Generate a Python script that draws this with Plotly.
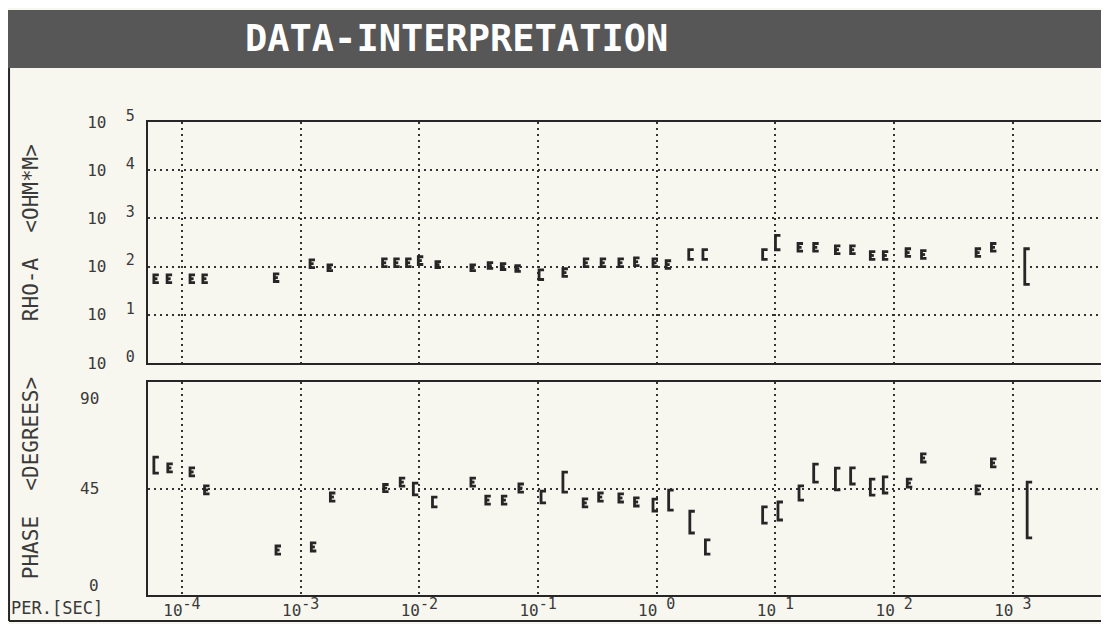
import plotly.graph_objects as go

# ---------------- data ----------------
title_text = "DATA-INTERPRETATION"

rho_period = [5.8e-5, 7.5e-5, 1.17e-4, 1.5e-4, 6.0e-4, 1.2e-3, 1.7e-3, 4.9e-3, 6.2e-3, 7.8e-3,
              9.8e-3, 0.0138, 0.0272, 0.038, 0.049, 0.065, 0.102, 0.162, 0.245, 0.34,
              0.48, 0.65, 0.93, 1.2, 1.86, 2.45, 7.8, 10.0, 15.5, 21.0,
              32.0, 43.0, 63.0, 81.0, 126.0, 170.0, 490.0, 660.0, 1260.0]
rho_a = [56, 56, 56, 56, 59, 115, 95, 120, 120, 120,
         133, 110, 95, 105, 100, 91, 68, 75, 120, 120,
         120, 126, 120, 110, 178, 178, 178, 316, 251, 251,
         224, 224, 170, 170, 195, 178, 195, 251, 100]
rho_err_dec = [0.08, 0.08, 0.08, 0.08, 0.08, 0.08, 0.06, 0.08, 0.08, 0.08,
               0.08, 0.06, 0.06, 0.06, 0.06, 0.06, 0.10, 0.08, 0.08, 0.08,
               0.08, 0.08, 0.08, 0.08, 0.10, 0.10, 0.10, 0.15, 0.08, 0.08,
               0.08, 0.08, 0.08, 0.08, 0.08, 0.08, 0.08, 0.08, 0.37]

phase_period = [5.8e-5, 7.6e-5, 1.17e-4, 1.55e-4, 6.2e-4, 1.23e-3, 1.78e-3, 5.0e-3, 6.9e-3, 8.9e-3,
                0.0129, 0.0272, 0.0363, 0.050, 0.069, 0.106, 0.162, 0.24, 0.324, 0.48,
                0.65, 0.93, 1.26, 1.9, 2.57, 7.8, 10.5, 15.8, 21.0, 32.0,
                43.0, 63.0, 81.0, 129.0, 170.0, 490.0, 660.0, 1320.0]
phase_deg = [54.9, 53.7, 52.0, 44.4, 19.0, 20.3, 41.4, 45.2, 47.7, 44.8,
             39.3, 47.7, 40.1, 40.1, 45.2, 41.4, 47.7, 38.9, 41.4, 41.0,
             39.3, 38.0, 40.1, 30.8, 20.3, 33.8, 35.5, 43.1, 51.5, 49.0,
             50.3, 45.6, 46.5, 47.3, 57.9, 44.4, 55.8, 35.9]
phase_err = [3.4, 1.7, 1.7, 1.7, 1.7, 1.7, 1.7, 1.5, 1.7, 2.5,
             2.1, 1.7, 1.7, 1.7, 1.7, 2.5, 4.2, 1.7, 1.7, 1.7,
             1.7, 2.5, 4.2, 4.6, 3.0, 3.4, 3.8, 3.0, 3.8, 4.6,
             3.4, 3.4, 3.4, 1.7, 1.7, 1.7, 1.7, 11.8]

x_tickvals = [1e-4, 1e-3, 1e-2, 1e-1, 1e0, 1e1, 1e2, 1e3]
x_exps = ["-4", "-3", "-2", "-1", " 0", " 1", " 2", " 3"]
rho_tickvals = [1e0, 1e1, 1e2, 1e3, 1e4, 1e5]
rho_exps = ["0", "1", "2", "3", "4", "5"]
phase_gridvals = [0, 45, 90]
phase_labels = ["0", "45", "90"]

# ---------------- styling ----------------
BG = "#f7f6ef"
INK = "#262626"
TXT = "#3a3a3a"
FONT = "DejaVu Sans Mono"
SERIF = 10 ** 0.042   # horizontal serif length (multiplicative, log x)
MID = 10 ** 0.030
SUP = "<sup><span style='font-size:15px'>{}</span></sup>"


def brackets_log(xs, ys, errs_dec):
    px, py = [], []
    for x, y, e in zip(xs, ys, errs_dec):
        f = 10 ** e
        top, bot = y * f, y / f
        px += [x * SERIF, x, x, x * SERIF, None]
        py += [top, top, bot, bot, None]
        if e <= 0.085:
            px += [x, x * MID, None]
            py += [y, y, None]
    return px, py


def brackets_lin(xs, ys, errs):
    px, py = [], []
    for x, y, e in zip(xs, ys, errs):
        top, bot = y + e, y - e
        px += [x * SERIF, x, x, x * SERIF, None]
        py += [top, top, bot, bot, None]
        if e <= 2.0:
            px += [x, x * MID, None]
            py += [y, y, None]
    return px, py


fig = go.Figure()

bx, by = brackets_log(rho_period, rho_a, rho_err_dec)
fig.add_trace(go.Scatter(x=bx, y=by, mode="lines", xaxis="x", yaxis="y",
                         line=dict(color=INK, width=2.8), hoverinfo="skip", showlegend=False))

px_, py_ = brackets_lin(phase_period, phase_deg, phase_err)
fig.add_trace(go.Scatter(x=px_, y=py_, mode="lines", xaxis="x2", yaxis="y2",
                         line=dict(color=INK, width=2.8), hoverinfo="skip", showlegend=False))

xrange = [-4.286, 3.81]
grid = dict(showgrid=True, gridcolor="#333333", gridwidth=1.7, griddash="2px,4px")
axis_line = dict(showline=True, linecolor=INK, linewidth=2)
tfont = dict(size=16, family=FONT, color=TXT)

# the page body adds an 8px offset; figure is sized so the content lands in the 1109x624 window
fig.update_layout(
    width=1101, height=616,
    margin=dict(l=140, r=0, t=114, b=29),
    paper_bgcolor=BG, plot_bgcolor=BG,
    font=dict(family=FONT, color=TXT, size=16),
    xaxis=dict(type="log", range=xrange, domain=[0, 1], anchor="y",
               tickvals=x_tickvals, showticklabels=False, ticks="",
               mirror=True, zeroline=False, **grid, **axis_line),
    yaxis=dict(type="log", range=[0, 5], domain=[0.4905, 1], anchor="x",
               tickvals=rho_tickvals,
               ticktext=["10\u00a0\u00a0" + SUP.format(e) for e in rho_exps],
               ticks="", ticklabelstandoff=8, tickfont=tfont,
               zeroline=False, **grid, **axis_line),
    xaxis2=dict(type="log", range=xrange, domain=[0, 1], anchor="y2", matches="x",
                tickvals=x_tickvals,
                ticktext=["10" + SUP.format(e.replace(" ", "\u00a0")) for e in x_exps],
                ticks="", tickfont=tfont, ticklabelstandoff=0,
                mirror=True, zeroline=False, **grid, **axis_line),
    yaxis2=dict(range=[0, 90], domain=[0, 0.4503], anchor="x2",
                tickvals=phase_gridvals, showticklabels=False, ticks="",
                zeroline=False, **grid, **axis_line),
)

# phase labels sit slightly inside the axis range, left of the frame
label_offsets = [4, 45, 83]
for lbl, yv in zip(phase_labels, label_offsets):
    fig.add_annotation(text=lbl, xref="paper", yref="y2", x=(101 - 148) / 961, y=yv,
                       xanchor="right", yanchor="middle", showarrow=False, font=tfont)

# title band and frame
fig.add_shape(type="rect", xref="paper", yref="paper", x0=-0.1467, x1=1.0, y0=1.1142, y1=1.2368,
              fillcolor="#575757", line=dict(width=0), layer="below")
fig.add_shape(type="line", xref="paper", yref="paper", x0=-0.1446, x1=-0.1446, y0=-0.055, y1=1.1142,
              line=dict(color=INK, width=2))
fig.add_shape(type="line", xref="paper", yref="paper", x0=-0.1446, x1=1.0, y0=-0.055, y1=-0.055,
              line=dict(color=INK, width=2))

fig.add_annotation(text="<b>" + title_text + "</b>", xref="paper", yref="paper",
                   x=(456 - 148) / 961, y=1.1755, xanchor="center", yanchor="middle",
                   showarrow=False, font=dict(family=FONT, size=37, color="#ffffff"))
fig.add_annotation(text="RHO-A  <OHM*M>", xref="paper", yref="paper",
                   x=(31 - 148) / 961, y=0.765, textangle=-90, showarrow=False,
                   xanchor="center", yanchor="middle", font=dict(family=FONT, size=21, color=TXT))
fig.add_annotation(text="PHASE  <DEGREES>", xref="paper", yref="paper",
                   x=(31 - 148) / 961, y=0.247, textangle=-90, showarrow=False,
                   xanchor="center", yanchor="middle", font=dict(family=FONT, size=21, color=TXT))
fig.add_annotation(text="PER.[SEC]", xref="paper", yref="paper",
                   x=(9 - 148) / 961, y=-0.027, xanchor="left", yanchor="middle",
                   showarrow=False, font=dict(family=FONT, size=17, color=TXT))

fig.write_html("out.html")
